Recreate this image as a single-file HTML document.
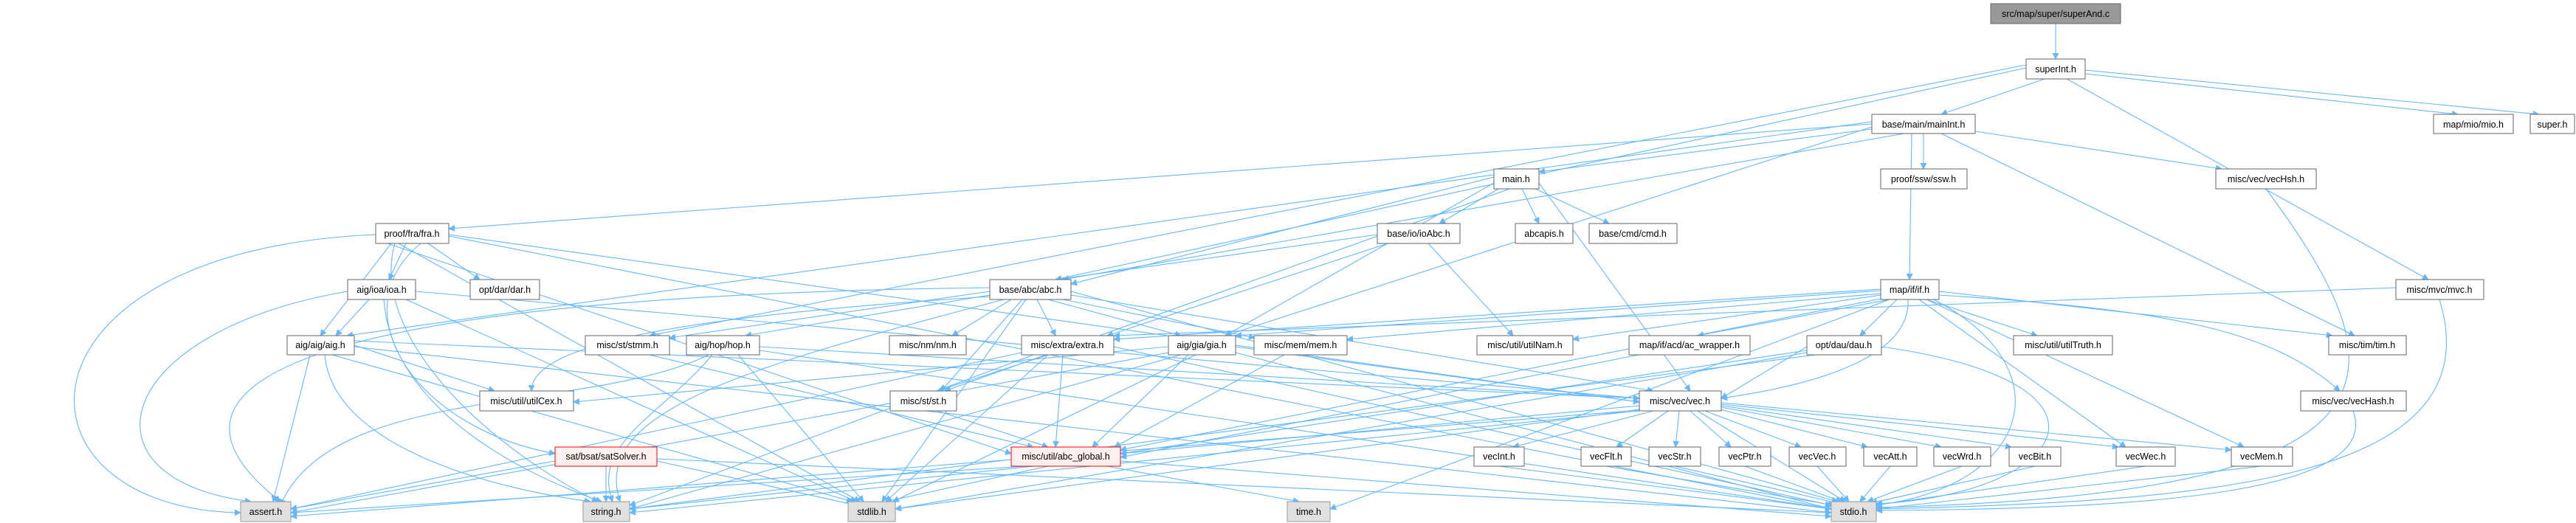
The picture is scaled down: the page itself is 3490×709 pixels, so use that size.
<!DOCTYPE html>
<html><head><meta charset="utf-8"><style>
html,body{margin:0;padding:0;background:#fff;width:3490px;height:709px;overflow:hidden}
svg text{font-family:"Liberation Sans",Arial,sans-serif;font-size:12.5px;fill:#000;text-anchor:middle}
</style></head><body>
<svg width="3490" height="709" viewBox="0 0 3490 709" xmlns="http://www.w3.org/2000/svg">
<defs><marker id="a" viewBox="0 0 10 10" refX="9" refY="5" markerWidth="9" markerHeight="9" orient="auto" markerUnits="userSpaceOnUse"><path d="M0,0L10,5L0,10z" fill="#63b8ff"/></marker></defs>
<g stroke="#63b8ff" stroke-width="1.1" fill="none" marker-end="url(#a)">
<path d="M2785,32L2785,80"/>
<path d="M2770,107L2630,155"/>
<path d="M2825,100L3330,155"/>
<path d="M2825,95L3440,155"/>
<path d="M2800,107L3290,379"/>
<path d="M2745,92L1430,379"/>
<path d="M2745,88L880,455"/>
<path d="M2536,175L2085,233"/>
<path d="M2606,181L2606,229"/>
<path d="M2676,178L3010,229"/>
<path d="M2590,181L2587,379"/>
<path d="M2630,181L3190,455"/>
<path d="M2536,168L608,310"/>
<path d="M2536,172L1660,455"/>
<path d="M2536,165L470,455"/>
<path d="M2580,181L1440,379"/>
<path d="M2030,256L1950,303"/>
<path d="M2062,256L2085,303"/>
<path d="M2080,256L2180,303"/>
<path d="M2024,240L1451,385"/>
<path d="M2024,248L1660,455"/>
<path d="M2085,248L2290,530"/>
<path d="M2045,256L1280,530"/>
<path d="M1866,318L1430,379"/>
<path d="M1935,330L2050,455"/>
<path d="M1880,330L1500,455"/>
<path d="M550,330L527,379"/>
<path d="M580,330L650,379"/>
<path d="M530,330L434,455"/>
<path d="M570,330C460,420 560,580 752,615"/>
<path d="M509,318C0,340 0,690 326,695"/>
<path d="M535,330C500,450 650,600 810,680"/>
<path d="M540,330L1165,680"/>
<path d="M608,318L2221,545"/>
<path d="M608,320L2481,690"/>
<path d="M525,330L1370,615"/>
<path d="M500,406L455,455"/>
<path d="M471,395C150,450 100,650 340,680"/>
<path d="M520,406C530,550 700,640 815,680"/>
<path d="M550,406L1160,680"/>
<path d="M563,395L2221,540"/>
<path d="M480,468L670,530"/>
<path d="M420,481L370,680"/>
<path d="M440,481C450,600 650,660 800,680"/>
<path d="M450,481L1155,680"/>
<path d="M480,462L2221,540"/>
<path d="M480,470L2481,695"/>
<path d="M1370,406L1290,455"/>
<path d="M1405,406L1430,455"/>
<path d="M1420,406L1600,455"/>
<path d="M1440,406L1700,458"/>
<path d="M1341,395L907,458"/>
<path d="M1341,400L1010,455"/>
<path d="M1385,406L1275,530"/>
<path d="M1341,402C900,430 720,470 720,530"/>
<path d="M1451,400L2240,530"/>
<path d="M1341,390C500,400 150,500 380,680"/>
<path d="M1360,406C1000,500 800,560 840,680"/>
<path d="M1390,406L1195,680"/>
<path d="M1451,395L2490,680"/>
<path d="M2560,406L2300,455"/>
<path d="M2570,406L2520,455"/>
<path d="M2610,406L2760,455"/>
<path d="M2627,395L3160,455"/>
<path d="M2627,400C2950,420 3080,450 3170,530"/>
<path d="M2600,406L2880,606"/>
<path d="M2610,406L3040,606"/>
<path d="M2585,406C2590,500 2400,530 2332,540"/>
<path d="M2548,400L2131,460"/>
<path d="M2548,398L1825,460"/>
<path d="M2548,392L1509,460"/>
<path d="M2548,394L1674,455"/>
<path d="M2620,406C2800,500 2750,660 2540,685"/>
<path d="M2548,405L1518,610"/>
<path d="M2560,406L1802,690"/>
<path d="M3305,406C3380,650 3000,680 2542,690"/>
<path d="M3246,390L1509,455"/>
<path d="M2448,470L2332,540"/>
<path d="M2448,475L1518,615"/>
<path d="M2549,470C2900,520 2800,670 2542,683"/>
<path d="M2448,478L1213,690"/>
<path d="M2460,481L853,690"/>
<path d="M2220,481L1518,620"/>
<path d="M1420,481L1270,530"/>
<path d="M1440,481L1430,606"/>
<path d="M1384,478L394,690"/>
<path d="M1400,481L853,685"/>
<path d="M1420,481L1200,680"/>
<path d="M1509,470L2481,685"/>
<path d="M1674,470L2221,545"/>
<path d="M1583,470L777,545"/>
<path d="M1610,481L1480,606"/>
<path d="M1620,481L1210,680"/>
<path d="M1600,481L853,690"/>
<path d="M1583,478L394,695"/>
<path d="M1674,478L2481,690"/>
<path d="M1740,481L1510,606"/>
<path d="M1270,557L1420,606"/>
<path d="M880,481L1400,606"/>
<path d="M1029,470L2221,540"/>
<path d="M960,481C800,560 450,520 380,685"/>
<path d="M965,481C900,560 800,600 830,680"/>
<path d="M1000,481L1170,680"/>
<path d="M1029,475L2481,690"/>
<path d="M821,632L821,680"/>
<path d="M752,625L394,690"/>
<path d="M890,625L1160,685"/>
<path d="M890,622L2481,695"/>
<path d="M1390,632L394,695"/>
<path d="M1400,632L853,690"/>
<path d="M1420,632L1200,680"/>
<path d="M1500,632L1760,680"/>
<path d="M1518,625L2481,700"/>
<path d="M2240,557L2050,606"/>
<path d="M2260,557L2190,606"/>
<path d="M2275,557L2270,606"/>
<path d="M2290,557L2345,606"/>
<path d="M2310,557L2440,606"/>
<path d="M2330,555L2530,606"/>
<path d="M2332,552L2630,606"/>
<path d="M2332,550L2725,606"/>
<path d="M2332,548L2870,606"/>
<path d="M2332,546L3023,610"/>
<path d="M2221,550L1518,615"/>
<path d="M2300,557L2500,680"/>
<path d="M2221,555L1213,690"/>
<path d="M2221,557L853,695"/>
<path d="M2221,556L394,700"/>
<path d="M2031,632L2481,690"/>
<path d="M2176,632L2485,685"/>
<path d="M2269,632L2490,682"/>
<path d="M2364,632L2495,680"/>
<path d="M2462,632L2505,680"/>
<path d="M2561,632L2520,680"/>
<path d="M2658,632L2530,680"/>
<path d="M2757,632L2535,682"/>
<path d="M2907,632L2540,685"/>
<path d="M3064,632L2542,690"/>
<path d="M3070,256C3250,500 3300,670 2542,688"/>
<path d="M3188,557C3230,670 2900,690 2542,692"/>
</g>
<g stroke="#666" stroke-width="1" fill="#fff">
<rect x="2697" y="5" width="176" height="27" fill="#999"/>
<rect x="2745" y="80" width="80" height="27"/>
<rect x="2536" y="155" width="140" height="26"/>
<rect x="3297" y="155" width="108" height="26"/>
<rect x="3428" y="155" width="60" height="26"/>
<rect x="2024" y="229" width="61" height="27"/>
<rect x="2548" y="229" width="117" height="27"/>
<rect x="3002" y="229" width="136" height="27"/>
<rect x="1866" y="303" width="112" height="27"/>
<rect x="2053" y="303" width="78" height="27"/>
<rect x="2153" y="303" width="119" height="27"/>
<rect x="509" y="303" width="99" height="27"/>
<rect x="471" y="379" width="92" height="27"/>
<rect x="637" y="379" width="94" height="27"/>
<rect x="1341" y="379" width="110" height="27"/>
<rect x="2548" y="379" width="79" height="27"/>
<rect x="3246" y="379" width="119" height="27"/>
<rect x="389" y="455" width="91" height="26"/>
<rect x="793" y="455" width="114" height="26"/>
<rect x="930" y="455" width="99" height="26"/>
<rect x="1205" y="455" width="104" height="26"/>
<rect x="1384" y="455" width="125" height="26"/>
<rect x="1583" y="455" width="91" height="26"/>
<rect x="1699" y="455" width="126" height="26"/>
<rect x="2001" y="455" width="130" height="26"/>
<rect x="2207" y="455" width="164" height="26"/>
<rect x="2448" y="455" width="101" height="26"/>
<rect x="2728" y="455" width="134" height="26"/>
<rect x="3155" y="455" width="105" height="26"/>
<rect x="650" y="530" width="127" height="27"/>
<rect x="1206" y="530" width="90" height="27"/>
<rect x="2221" y="530" width="111" height="27"/>
<rect x="3117" y="530" width="143" height="27"/>
<rect x="752" y="606" width="138" height="26" fill="#fff0f0" stroke="#f00"/>
<rect x="1370" y="606" width="148" height="26" fill="#fff0f0" stroke="#f00"/>
<rect x="1997" y="606" width="68" height="26"/>
<rect x="2142" y="606" width="68" height="26"/>
<rect x="2234" y="606" width="70" height="26"/>
<rect x="2329" y="606" width="70" height="26"/>
<rect x="2424" y="606" width="77" height="26"/>
<rect x="2525" y="606" width="72" height="26"/>
<rect x="2620" y="606" width="77" height="26"/>
<rect x="2722" y="606" width="70" height="26"/>
<rect x="2867" y="606" width="80" height="26"/>
<rect x="3023" y="606" width="83" height="26"/>
<g fill="#e0e0e0" stroke="#999">
<rect x="326" y="680" width="68" height="27"/>
<rect x="790" y="680" width="63" height="27"/>
<rect x="1149" y="680" width="64" height="27"/>
<rect x="1744" y="680" width="58" height="27"/>
<rect x="2481" y="680" width="61" height="27"/>
</g>
</g>
<g>
<text x="2785" y="23">src/map/super/superAnd.c</text>
<text x="2785" y="98">superInt.h</text>
<text x="2606" y="173">base/main/mainInt.h</text>
<text x="3351" y="173">map/mio/mio.h</text>
<text x="3458" y="173">super.h</text>
<text x="2054" y="247">main.h</text>
<text x="2606" y="247">proof/ssw/ssw.h</text>
<text x="3070" y="247">misc/vec/vecHsh.h</text>
<text x="1922" y="321">base/io/ioAbc.h</text>
<text x="2092" y="321">abcapis.h</text>
<text x="2212" y="321">base/cmd/cmd.h</text>
<text x="558" y="321">proof/fra/fra.h</text>
<text x="517" y="397">aig/ioa/ioa.h</text>
<text x="684" y="397">opt/dar/dar.h</text>
<text x="1396" y="397">base/abc/abc.h</text>
<text x="2587" y="397">map/if/if.h</text>
<text x="3305" y="397">misc/mvc/mvc.h</text>
<text x="434" y="472">aig/aig/aig.h</text>
<text x="850" y="472">misc/st/stmm.h</text>
<text x="979" y="472">aig/hop/hop.h</text>
<text x="1257" y="472">misc/nm/nm.h</text>
<text x="1446" y="472">misc/extra/extra.h</text>
<text x="1628" y="472">aig/gia/gia.h</text>
<text x="1762" y="472">misc/mem/mem.h</text>
<text x="2066" y="472">misc/util/utilNam.h</text>
<text x="2289" y="472">map/if/acd/ac_wrapper.h</text>
<text x="2498" y="472">opt/dau/dau.h</text>
<text x="2795" y="472">misc/util/utilTruth.h</text>
<text x="3207" y="472">misc/tim/tim.h</text>
<text x="713" y="548">misc/util/utilCex.h</text>
<text x="1251" y="548">misc/st/st.h</text>
<text x="2276" y="548">misc/vec/vec.h</text>
<text x="3188" y="548">misc/vec/vecHash.h</text>
<text x="821" y="623">sat/bsat/satSolver.h</text>
<text x="1444" y="623">misc/util/abc_global.h</text>
<text x="2031" y="623">vecInt.h</text>
<text x="2176" y="623">vecFlt.h</text>
<text x="2269" y="623">vecStr.h</text>
<text x="2364" y="623">vecPtr.h</text>
<text x="2462" y="623">vecVec.h</text>
<text x="2561" y="623">vecAtt.h</text>
<text x="2658" y="623">vecWrd.h</text>
<text x="2757" y="623">vecBit.h</text>
<text x="2907" y="623">vecWec.h</text>
<text x="3064" y="623">vecMem.h</text>
<text x="360" y="698">assert.h</text>
<text x="821" y="698">string.h</text>
<text x="1181" y="698">stdlib.h</text>
<text x="1773" y="698">time.h</text>
<text x="2511" y="698">stdio.h</text>
</g>
</svg>
</body></html>
